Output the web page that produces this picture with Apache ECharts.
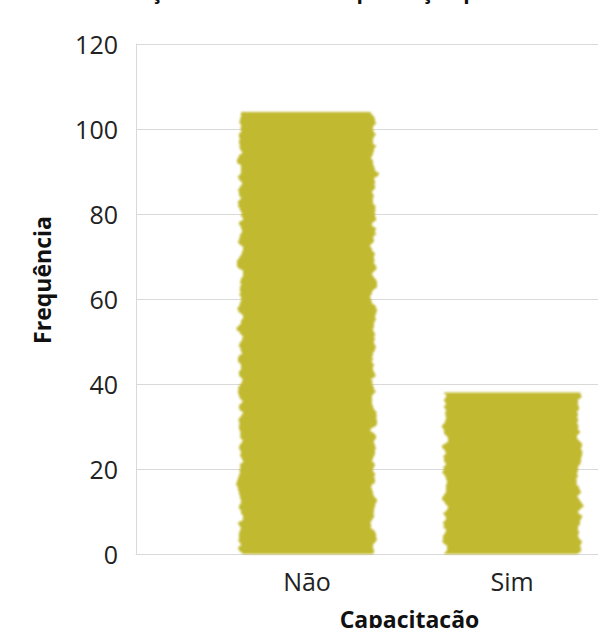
<!DOCTYPE html>
<html>
<head>
<meta charset="utf-8">
<script src="https://cdn.jsdelivr.net/npm/echarts@6/dist/echarts.min.js"></script>
<style>
  html, body { margin: 0; padding: 0; background: #ffffff; }
  #chart { width: 598px; height: 628px; }
</style>
</head>
<body>
<div id="chart"></div>
<script>
// Categories and counts
const categories = ['Não', 'Sim'];
const frequencies = [104, 38];

// Frequency axis ticks
const yTickValues = [0, 20, 40, 60, 80, 100, 120];

const titleText = 'Distribuição dos Alunos e Capacitação por Setor';
const barColor = '#c1b92f';
const gridColor = '#d9d9d9';
const font = '"Open Sans", "Noto Sans", sans-serif';

const chart = echarts.init(document.getElementById('chart'), null, { renderer: 'svg' });

chart.setOption({
  animation: false,
  backgroundColor: '#ffffff',
  title: {
    text: titleText,
    left: 55,
    top: -25,
    textStyle: { fontFamily: font, fontSize: 21, fontWeight: 'bold', color: '#111' }
  },
  grid: [
    // frame with the frequency axis and its gridlines
    { left: 136, right: 0, top: 44, bottom: 74, outerBoundsMode: 'none' },
    // category bands for the bars
    { left: 204.5, right: -16.5, top: 44, bottom: 74, outerBoundsMode: 'none' }
  ],
  xAxis: [
    {
      gridIndex: 0, type: 'value', min: 0, max: 1,
      axisLine: { show: true, onZero: false, lineStyle: { color: gridColor, width: 1 } },
      axisTick: { show: false }, axisLabel: { show: false }, splitLine: { show: false }
    },
    {
      gridIndex: 1, type: 'category', data: categories,
      axisLine: { show: false }, axisTick: { show: false },
      axisLabel: { fontFamily: font, fontSize: 25, color: '#222', margin: 14 },
      name: 'Capacitação', nameLocation: 'middle', nameGap: 53,
      nameTextStyle: { fontFamily: font, fontSize: 23, fontWeight: 'bold', color: '#111' }
    }
  ],
  yAxis: [
    {
      gridIndex: 0, type: 'value',
      min: yTickValues[0], max: yTickValues[yTickValues.length - 1],
      interval: yTickValues[1] - yTickValues[0],
      axisLine: { show: true, lineStyle: { color: gridColor, width: 1 } },
      axisTick: { show: false },
      axisLabel: { fontFamily: font, fontSize: 25, color: '#222', margin: 18 },
      splitLine: { show: true, lineStyle: { color: gridColor, width: 1 } },
      name: 'Frequência', nameLocation: 'middle', nameGap: 83,
      nameTextStyle: {
        fontFamily: font, fontSize: 23, fontWeight: 'bold', color: '#111',
        padding: [0, 0, 0, 38]
      }
    },
    {
      gridIndex: 1, type: 'value',
      min: yTickValues[0], max: yTickValues[yTickValues.length - 1],
      show: false
    }
  ],
  series: [
    {
      type: 'bar',
      xAxisIndex: 1, yAxisIndex: 1,
      data: frequencies,
      barWidth: 134,
      silent: true,
      itemStyle: { color: barColor }
    }
  ]
});

// Brush-stroke edges: horizontal displacement noise applied to the bar shapes
function applyBrushFilter() {
  const svg = document.querySelector('#chart svg');
  if (!svg) return;
  const NS = 'http://www.w3.org/2000/svg';
  if (!svg.querySelector('#brush')) {
    const defs = document.createElementNS(NS, 'defs');
    const filter = document.createElementNS(NS, 'filter');
    filter.setAttribute('id', 'brush');
    filter.setAttribute('x', '-15%');
    filter.setAttribute('y', '-5%');
    filter.setAttribute('width', '130%');
    filter.setAttribute('height', '110%');
    filter.setAttribute('color-interpolation-filters', 'sRGB');
    const turb = document.createElementNS(NS, 'feTurbulence');
    turb.setAttribute('type', 'fractalNoise');
    turb.setAttribute('baseFrequency', '0.02 0.09');
    turb.setAttribute('numOctaves', '3');
    turb.setAttribute('seed', '7');
    turb.setAttribute('result', 'noise');
    const cm = document.createElementNS(NS, 'feColorMatrix');
    cm.setAttribute('in', 'noise');
    cm.setAttribute('type', 'matrix');
    cm.setAttribute('values', '1 0 0 0 0  0 0 0 0 0.5  0 0 1 0 0  0 0 0 0 1');
    cm.setAttribute('result', 'shift');
    const disp = document.createElementNS(NS, 'feDisplacementMap');
    disp.setAttribute('in', 'SourceGraphic');
    disp.setAttribute('in2', 'shift');
    disp.setAttribute('scale', '14');
    disp.setAttribute('xChannelSelector', 'R');
    disp.setAttribute('yChannelSelector', 'G');
    disp.setAttribute('result', 'rough');
    const blur = document.createElementNS(NS, 'feGaussianBlur');
    blur.setAttribute('in', 'rough');
    blur.setAttribute('stdDeviation', '0.9');
    filter.appendChild(turb);
    filter.appendChild(cm);
    filter.appendChild(disp);
    filter.appendChild(blur);
    defs.appendChild(filter);
    svg.insertBefore(defs, svg.firstChild);
  }
  svg.querySelectorAll('path').forEach(p => {
    const fill = (p.getAttribute('fill') || '').toLowerCase();
    if (fill === barColor || fill === 'rgb(193,185,47)') {
      p.setAttribute('filter', 'url(#brush)');
    }
  });
}
applyBrushFilter();
chart.on('finished', applyBrushFilter);
</script>
</body>
</html>
